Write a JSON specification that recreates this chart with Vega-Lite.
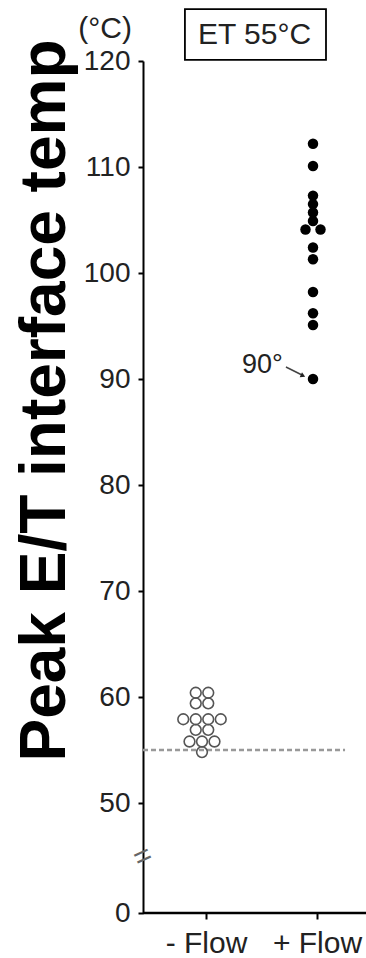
{
  "$schema": "https://vega.github.io/schema/vega-lite/v6.json",
  "width": 223,
  "height": 852,
  "autosize": "none",
  "padding": {"left": 143, "top": 61, "right": 0, "bottom": 45},
  "background": "white",
  "config": {"view": {"stroke": null}, "font": "Liberation Sans"},
  "encoding": {
    "y": {
      "field": "temp",
      "type": "quantitative",
      "scale": {"domain": [0, 50, 120], "range": [852, 742, 0], "nice": false, "zero": false},
      "axis": {
        "values": [0, 50, 60, 70, 80, 90, 100, 110, 120],
        "grid": false,
        "domainColor": "black",
        "domainWidth": 2,
        "tickColor": "black",
        "tickWidth": 2,
        "tickSize": 5,
        "labelFont": "Liberation Sans",
        "labelFontSize": 28,
        "labelColor": "#222222",
        "labelPadding": 8,
        "title": "Peak E/T interface temp",
        "titleFont": "Liberation Sans",
        "titleFontSize": 64,
        "titleFontWeight": "bold",
        "titleColor": "black",
        "titleX": -79,
        "titleY": 339,
        "titleAngle": 270,
        "titleAlign": "center",
        "titleBaseline": "alphabetic"
      }
    }
  },
  "layer": [
    {
      "data": {"values": [{"temp": 0}]},
      "mark": {"type": "rule", "color": "black", "strokeWidth": 2.5},
      "encoding": {}
    },
    {
      "data": {"values": [{"x0": 0, "x1": 0.906, "temp": 55}]},
      "mark": {"type": "rule", "color": "#999999", "strokeWidth": 2.5, "strokeDash": [5, 3]},
      "encoding": {
        "x": {"field": "x0", "type": "quantitative", "scale": {"domain": [0, 1], "nice": false, "zero": false}, "axis": null},
        "x2": {"field": "x1"}
      }
    },
    {
      "data": {"values": [
        {"group": "- Flow", "temp": 60.4, "slot": -0.5},
        {"group": "- Flow", "temp": 60.4, "slot": 0.5},
        {"group": "- Flow", "temp": 59.4, "slot": -0.5},
        {"group": "- Flow", "temp": 59.4, "slot": 0.5},
        {"group": "- Flow", "temp": 57.9, "slot": -1.5},
        {"group": "- Flow", "temp": 57.9, "slot": -0.5},
        {"group": "- Flow", "temp": 57.9, "slot": 0.5},
        {"group": "- Flow", "temp": 57.9, "slot": 1.5},
        {"group": "- Flow", "temp": 56.9, "slot": -0.5},
        {"group": "- Flow", "temp": 56.9, "slot": 0.5},
        {"group": "- Flow", "temp": 55.8, "slot": -1},
        {"group": "- Flow", "temp": 55.8, "slot": 0},
        {"group": "- Flow", "temp": 55.8, "slot": 1},
        {"group": "- Flow", "temp": 54.8, "slot": 0},
        {"group": "+ Flow", "temp": 112.2, "slot": 0},
        {"group": "+ Flow", "temp": 110.1, "slot": 0},
        {"group": "+ Flow", "temp": 107.3, "slot": 0},
        {"group": "+ Flow", "temp": 106.5, "slot": 0},
        {"group": "+ Flow", "temp": 105.7, "slot": 0},
        {"group": "+ Flow", "temp": 104.9, "slot": 0},
        {"group": "+ Flow", "temp": 104.1, "slot": -0.6},
        {"group": "+ Flow", "temp": 104.1, "slot": 0.6},
        {"group": "+ Flow", "temp": 102.4, "slot": 0},
        {"group": "+ Flow", "temp": 101.3, "slot": 0},
        {"group": "+ Flow", "temp": 98.2, "slot": 0},
        {"group": "+ Flow", "temp": 96.2, "slot": 0},
        {"group": "+ Flow", "temp": 95.1, "slot": 0},
        {"group": "+ Flow", "temp": 90.0, "slot": 0}
      ]},
      "mark": {"type": "point", "shape": "circle", "opacity": 1},
      "encoding": {
        "x": {
          "field": "group",
          "type": "nominal",
          "sort": ["- Flow", "+ Flow"],
          "scale": {"type": "point", "domain": ["- Flow", "+ Flow"], "range": [63, 174], "padding": 0},
          "axis": {
            "domain": false,
            "grid": false,
            "ticks": true,
            "tickColor": "black",
            "tickWidth": 2,
            "tickSize": 6,
            "labelFont": "Liberation Sans",
            "labelFontSize": 30,
            "labelColor": "#222222",
            "labelPadding": 9,
            "labelAngle": 0,
            "title": null
          }
        },
        "xOffset": {"field": "slot", "type": "quantitative", "scale": {"domain": [-2, 2], "range": [-29, 21]}},
        "fill": {"condition": {"test": "datum.group === '- Flow'", "value": "transparent"}, "value": "black"},
        "stroke": {"condition": {"test": "datum.group === '- Flow'", "value": "#555555"}, "value": "black"},
        "strokeWidth": {"condition": {"test": "datum.group === '- Flow'", "value": 1.6}, "value": 0},
        "size": {"condition": {"test": "datum.group === '- Flow'", "value": 115}, "value": 110}
      }
    },
    {
      "data": {"values": [{"x0": 0.188, "x1": 0.8206, "temp": 124.9, "temp2": 120.1}]},
      "mark": {"type": "rect", "fill": "white", "stroke": "black", "strokeWidth": 1.8},
      "encoding": {
        "x": {"field": "x0", "type": "quantitative", "scale": {"domain": [0, 1], "nice": false, "zero": false}, "axis": null},
        "x2": {"field": "x1"},
        "y2": {"field": "temp2"}
      }
    },
    {
      "data": {"values": [
        {"x": 0.5, "temp": 122.45, "label": "ET 55°C"}
      ]},
      "mark": {"type": "text", "fontSize": 30, "color": "#222222", "align": "center", "baseline": "middle", "font": "Liberation Sans"},
      "encoding": {
        "x": {"field": "x", "type": "quantitative", "scale": {"domain": [0, 1], "nice": false, "zero": false}, "axis": null},
        "text": {"field": "label"}
      }
    },
    {
      "data": {"values": [
        {"x": -0.17, "temp": 123, "label": "(°C)"}
      ]},
      "mark": {"type": "text", "fontSize": 30, "color": "#222222", "align": "center", "baseline": "middle", "font": "Liberation Sans"},
      "encoding": {
        "x": {"field": "x", "type": "quantitative", "scale": {"domain": [0, 1], "nice": false, "zero": false}, "axis": null},
        "text": {"field": "label"}
      }
    },
    {
      "data": {"values": [
        {"x": 0.444, "temp": 90.57, "label": "90°"}
      ]},
      "mark": {"type": "text", "fontSize": 27, "color": "#222222", "align": "left", "baseline": "alphabetic", "font": "Liberation Sans"},
      "encoding": {
        "x": {"field": "x", "type": "quantitative", "scale": {"domain": [0, 1], "nice": false, "zero": false}, "axis": null},
        "text": {"field": "label"}
      }
    },
    {
      "data": {"values": [{"x0": 0.641, "x1": 0.713, "temp": 91.13, "temp2": 90.38}]},
      "mark": {"type": "rule", "color": "#444444", "strokeWidth": 1.5},
      "encoding": {
        "x": {"field": "x0", "type": "quantitative", "scale": {"domain": [0, 1], "nice": false, "zero": false}, "axis": null},
        "x2": {"field": "x1"},
        "y2": {"field": "temp2"}
      }
    },
    {
      "data": {"values": [{"x": 0.7175, "temp": 90.3}]},
      "mark": {"type": "point", "shape": "triangle-right", "filled": true, "color": "#222222", "size": 30, "angle": 25, "opacity": 1},
      "encoding": {
        "x": {"field": "x", "type": "quantitative", "scale": {"domain": [0, 1], "nice": false, "zero": false}, "axis": null}
      }
    },
    {
      "data": {"values": [{"x": 0, "temp": 25.5, "label": "="}]},
      "mark": {"type": "text", "fontSize": 30, "color": "#666666", "align": "center", "baseline": "middle", "angle": -25, "font": "Liberation Sans"},
      "encoding": {
        "x": {"field": "x", "type": "quantitative", "scale": {"domain": [0, 1], "nice": false, "zero": false}, "axis": null},
        "text": {"field": "label"}
      }
    }
  ],
  "resolve": {"scale": {"x": "independent"}}
}
